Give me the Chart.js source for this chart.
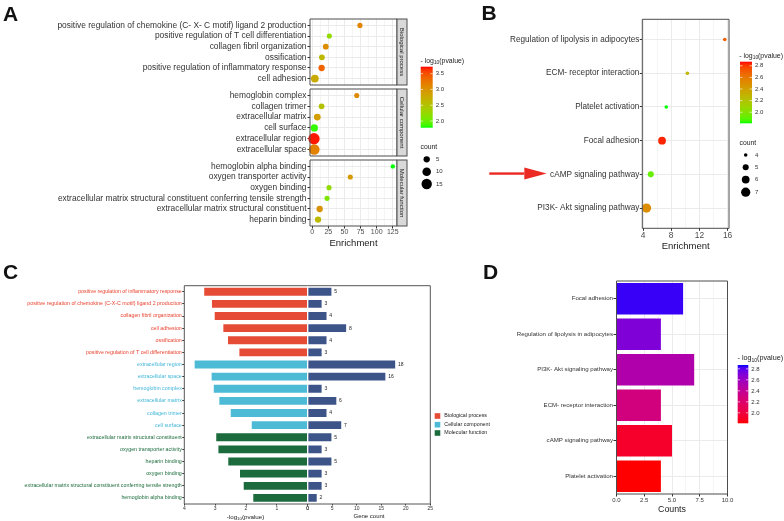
<!DOCTYPE html>
<html><head><meta charset="utf-8">
<script src="https://cdn.jsdelivr.net/npm/chart.js@4/dist/chart.umd.min.js"></script>
<style>
html,body{margin:0;padding:0;background:#fff;width:784px;height:521px;overflow:hidden;}
canvas{position:absolute;left:0;top:0;}
</style></head><body>
<canvas id="a1" width="784" height="521"></canvas>
<canvas id="a2" width="784" height="521"></canvas>
<canvas id="a3" width="784" height="521"></canvas>
<canvas id="b" width="784" height="521"></canvas>
<canvas id="cL" width="784" height="521"></canvas>
<canvas id="cR" width="784" height="521"></canvas>
<canvas id="d" width="784" height="521"></canvas>
<script>
// ---------------- DATA ----------------
// Panel A : GO enrichment dot plot (three facets)
const bpTerms = ['positive regulation of chemokine (C- X- C motif) ligand 2 production','positive regulation of T cell differentiation','collagen fibril organization','ossification','positive regulation of inflammatory response','cell adhesion'];
const bpEnrichment = [74, 26.5, 21, 15, 14.5, 4];
const bpCount = [3, 3, 4, 4, 5, 8];
const bpLogP = [3.13, 2.24, 3.04, 2.61, 3.38, 2.76];

const ccTerms = ['hemoglobin complex','collagen trimer','extracellular matrix','cell surface','extracellular region','extracellular space'];
const ccEnrichment = [69, 14.5, 7.8, 3.2, 2.7, 3.1];
const ccCount = [3, 4, 6, 7, 18, 16];
const ccLogP = [3.07, 2.52, 2.89, 1.84, 3.69, 3.14];

const mfTerms = ['hemoglobin alpha binding','oxygen transporter activity','oxygen binding','extracellular matrix structural constituent conferring tensile strength','extracellular matrix structural constituent','heparin binding'];
const mfEnrichment = [125, 59, 26, 23, 11.5, 9];
const mfCount = [2, 3, 3, 3, 5, 5];
const mfLogP = [1.79, 2.92, 2.22, 2.10, 2.99, 2.60];

const facetNames = ['Biological process','Cellular component','Molecular function'];
const enrichTicksA = [0, 25, 50, 75, 100, 125];
const pLegendTicksA = [2.0, 2.5, 3.0, 3.5];
const countLegendA = [5, 10, 15];

// Panel B : KEGG dot plot
const keggTerms = ['Regulation of lipolysis in adipocytes','ECM- receptor interaction','Platelet activation','Focal adhesion','cAMP signaling pathway','PI3K- Akt signaling pathway'];
const keggEnrichment = [15.6, 10.3, 7.3, 6.7, 5.1, 4.5];
const keggCount = [4, 4, 4, 6, 5, 7];
const keggLogP = [2.70, 2.28, 1.81, 2.84, 1.92, 2.50];
const enrichTicksB = [4, 8, 12, 16];
const pLegendTicksB = [2.0, 2.2, 2.4, 2.6, 2.8];
const countLegendB = [4, 5, 6, 7];

// Panel C : GO butterfly bars
const goTerms = ['positive regulation of inflammatory response','positive regulation of chemokine (C-X-C motif) ligand 2 production','collagen fibril organization','cell adhesion','ossification','positive regulation of T cell differentiation','extracellular region','extracellular space','hemoglobin complex','extracellular matrix','collagen trimer','cell surface','extracellular matrix structural constituent','oxygen transporter activity','heparin binding','oxygen binding','extracellular matrix structural constituent conferring tensile strength','hemoglobin alpha binding'];
const goGroup = ['BP','BP','BP','BP','BP','BP','CC','CC','CC','CC','CC','CC','MF','MF','MF','MF','MF','MF'];
const goLogP = [3.38, 3.13, 3.04, 2.76, 2.61, 2.24, 3.69, 3.14, 3.07, 2.89, 2.52, 1.84, 2.99, 2.92, 2.60, 2.22, 2.10, 1.79];
const goGeneCount = [5, 3, 4, 8, 4, 3, 18, 16, 3, 6, 4, 7, 5, 3, 5, 3, 3, 2];
const groupKeys = ['BP','CC','MF'];
const groupNames = ['Biological process','Cellular component','Molecular function'];
const logPTicksC = [0, 1, 2, 3, 4];
const countTicksC = [0, 5, 10, 15, 20, 25];

// Panel D : KEGG bars
const keggTermsD = ['Focal adhesion','Regulation of lipolysis in adipocytes','PI3K- Akt signaling pathway','ECM- receptor interaction','cAMP signaling pathway','Platelet activation'];
const keggCountD = [6, 4, 7, 4, 5, 4];
const keggLogPD = [2.84, 2.70, 2.50, 2.28, 1.92, 1.81];
const countTicksD = [0, 2.5, 5, 7.5, 10];

// ---------------- STYLE ----------------
const W = 784, H = 521;
const FF = '"Liberation Sans", Arial, Helvetica, sans-serif';
const groupFill = {BP:'#e64b35', CC:'#4dbbd5', MF:'#1b6b3c'};
const groupText = {BP:'#e8432e', CC:'#3fb5d8', MF:'#1b6b3c'};
const navy = '#3c5488';
const gridCol = '#ebebeb';

Chart.defaults.font.family = FF;
Chart.defaults.color = '#333';
Chart.defaults.animation = false;
Chart.defaults.responsive = false;
Chart.defaults.devicePixelRatio = 1;
Chart.defaults.events = [];
Chart.defaults.plugins.legend.display = false;
Chart.defaults.plugins.tooltip.enabled = false;

// CIELAB colour ramp (as ggplot's gradient)
function lin(c){c/=255;return c<=0.04045?c/12.92:Math.pow((c+0.055)/1.055,2.4);}
function gam(c){c=Math.max(0,Math.min(1,c));return Math.round(255*(c<=0.0031308?12.92*c:1.055*Math.pow(c,1/2.4)-0.055));}
function toLab(hex){
  const r=lin(parseInt(hex.slice(1,3),16)),g=lin(parseInt(hex.slice(3,5),16)),b=lin(parseInt(hex.slice(5,7),16));
  let X=(0.4124*r+0.3576*g+0.1805*b)/0.95047,Y=0.2126*r+0.7152*g+0.0722*b,Z=(0.0193*r+0.1192*g+0.9505*b)/1.08883;
  const f=t=>t>0.008856?Math.cbrt(t):7.787*t+16/116;
  const fx=f(X),fy=f(Y),fz=f(Z);
  return [116*fy-16,500*(fx-fy),200*(fy-fz)];
}
function fromLab(L,a,bb){
  const fy=(L+16)/116,fx=fy+a/500,fz=fy-bb/200;
  const fi=t=>t>0.206893?t*t*t:(t-16/116)/7.787;
  const X=0.95047*fi(fx),Y=fi(fy),Z=1.08883*fi(fz);
  return 'rgb('+gam(3.2406*X-1.5372*Y-0.4986*Z)+','+gam(-0.9689*X+1.8758*Y+0.0415*Z)+','+gam(0.0557*X-0.2040*Y+1.0570*Z)+')';
}
function ramp(lowHex, highHex, vmin, vmax){
  const A=toLab(lowHex),B=toLab(highHex);
  return v=>{const t=Math.max(0,Math.min(1,(v-vmin)/(vmax-vmin)));return fromLab(A[0]+(B[0]-A[0])*t,A[1]+(B[1]-A[1])*t,A[2]+(B[2]-A[2])*t);};
}
const colA = ramp('#00ff00','#ff0000',1.79,3.72);
const colB = ramp('#00ff00','#ff0000',1.81,2.87);
const colD = ramp('#ff0000','#0000ff',1.81,2.87);
const rA = c => Math.sqrt(1.5 + 1.7*c);
const rB = c => Math.sqrt(Math.max(1.5, -20.7 + 5.98*c));

function pad(l,t,r,b,yW,xH){return {left:l-yW, top:t, right:W-r, bottom:H-b-xH};}
const fixW = w => s => { s.width = w; };
const fixH = h => s => { s.height = h; };
const setTicks = vals => s => { s.ticks = vals.map(v => ({value:v})); };
const fnt = (s) => s + 'px ' + FF;

function frame(color, sides){
  sides = sides || 'trbl';
  return {id:'frame', afterDraw(chart){
    const {left,top,right,bottom}=chart.chartArea, c=chart.ctx;
    c.save(); c.strokeStyle=color; c.lineWidth=1; c.beginPath();
    if(sides.includes('t')){c.moveTo(left,top);c.lineTo(right,top);}
    if(sides.includes('r')){c.moveTo(right,top);c.lineTo(right,bottom);}
    if(sides.includes('b')){c.moveTo(left,bottom);c.lineTo(right,bottom);}
    if(sides.includes('l')){c.moveTo(left,top);c.lineTo(left,bottom);}
    c.stroke(); c.restore();
  }};
}
function stripPl(text){
  return {id:'strip', afterDraw(chart){
    const {right,top,bottom}=chart.chartArea, c=chart.ctx;
    c.save(); c.fillStyle='#d9d9d9'; c.fillRect(right,top,10,bottom-top);
    c.strokeStyle='#4d4d4d'; c.lineWidth=1; c.strokeRect(right,top,10,bottom-top);
    c.translate(right+5,(top+bottom)/2); c.rotate(Math.PI/2);
    c.fillStyle='#1a1a1a'; c.font=fnt(6); c.textAlign='center'; c.textBaseline='middle';
    c.fillText(text,0,0.3); c.restore();
  }};
}

// ---------------- PANEL A ----------------
const minorA = [12.5, 37.5, 62.5, 87.5, 112.5];
const allXA = enrichTicksA.concat(minorA).sort((a,b)=>a-b);
function facet(id, terms, enr, cnt, lp, top, bottom, strip, showX){
  const xH = showX ? 22 : 0;
  new Chart(document.getElementById(id), {
    type:'scatter',
    data:{datasets:[{data: terms.map((t,i)=>({x:enr[i], y:i+1})),
      pointRadius: cnt.map(rA), pointBackgroundColor: lp.map(colA), pointBorderWidth:0, clip:false}]},
    options:{
      layout:{padding: pad(310, top, 397, bottom, 310, xH)},
      scales:{
        x:{type:'linear', min:-3.5, max:131.5, afterBuildTicks: setTicks(allXA),
          ticks:{display:showX, autoSkip:false, maxRotation:0, padding:0.5, font:{size:7, lineHeight:1}, color:'#4d4d4d',
            callback:v=>enrichTicksA.includes(v)?String(v):''},
          grid:{color:gridCol, lineWidth:c=>enrichTicksA.includes(c.tick.value)?1:0.5, drawTicks:showX, tickLength:2.5,
            tickColor:c=>enrichTicksA.includes(c.tick.value)?'#333':'rgba(0,0,0,0)'},
          border:{display:false},
          title:{display:showX, text:'Enrichment', font:{size:9.5, lineHeight:1}, padding:0, color:'#1a1a1a'},
          afterFit: fixH(xH)},
        y:{type:'linear', min:0.4, max:6.6, reverse:true, afterBuildTicks: setTicks(terms.map((t,i)=>i+1)),
          ticks:{autoSkip:false, padding:1, font:{size:8.4}, color:'#333', callback:v=>terms[v-1]},
          grid:{color:gridCol, tickLength:2.5, tickColor:'#333'},
          border:{display:false}, afterFit: fixW(310)}
      }
    },
    plugins:[frame('#4d4d4d'), stripPl(strip)]
  });
}
facet('a1', bpTerms, bpEnrichment, bpCount, bpLogP, 19, 85, facetNames[0], false);
facet('a2', ccTerms, ccEnrichment, ccCount, ccLogP, 89, 156, facetNames[1], false);
facet('a3', mfTerms, mfEnrichment, mfCount, mfLogP, 160, 226, facetNames[2], true);

// ---------------- PANEL B ----------------
const allXB = [4,6,8,10,12,14,16];
new Chart(document.getElementById('b'), {
  type:'scatter',
  data:{datasets:[{data: keggTerms.map((t,i)=>({x:keggEnrichment[i], y:i+1})),
    pointRadius: keggCount.map(rB), pointBackgroundColor: keggLogP.map(colB), pointBorderWidth:0, clip:false}]},
  options:{
    layout:{padding: pad(642.3, 19.3, 729, 228.3, 642.3, 22.5)},
    scales:{
      x:{type:'linear', min:3.9, max:16.2, afterBuildTicks: setTicks(allXB),
        ticks:{autoSkip:false, maxRotation:0, padding:0.5, font:{size:8.4, lineHeight:1}, color:'#4d4d4d',
          callback:v=>enrichTicksB.includes(v)?String(v):''},
        grid:{color:gridCol, lineWidth:c=>enrichTicksB.includes(c.tick.value)?1:0.5, tickLength:2.5,
          tickColor:c=>enrichTicksB.includes(c.tick.value)?'#333':'rgba(0,0,0,0)'},
        border:{display:false},
        title:{display:true, text:'Enrichment', font:{size:9.5, lineHeight:1}, padding:0, color:'#1a1a1a'},
        afterFit: fixH(22.5)},
      y:{type:'linear', min:0.4, max:6.6, reverse:true, afterBuildTicks: setTicks(keggTerms.map((t,i)=>i+1)),
        ticks:{autoSkip:false, padding:0.5, font:{size:8.2}, color:'#333', callback:v=>keggTerms[v-1]},
        grid:{color:gridCol, tickLength:2.5, tickColor:'#333'},
        border:{display:false}, afterFit: fixW(642.3)}
    }
  },
  plugins:[frame('#4d4d4d'), {id:'arrow', afterDraw(chart){
    const c=chart.ctx, ca=chart.chartArea;
    const y = chart.scales.y.getPixelForValue(keggTerms.indexOf('cAMP signaling pathway')+1) - 0.8;
    const tail = ca.left-153, base = ca.left-118, tip = ca.left-95.6;
    c.save(); c.fillStyle='#ec2a24';
    c.fillRect(tail, y-1.2, base-tail, 2.4);
    c.beginPath(); c.moveTo(base, y-6); c.lineTo(tip, y); c.lineTo(base, y+6); c.closePath(); c.fill();
    c.restore();
  }}]
});

// ---------------- PANEL C ----------------
function logTitle(ctx, x, y, size, prefix, align){
  ctx.font=fnt(size); const w1=ctx.measureText(prefix+'log').width, w3=ctx.measureText('(pvalue)').width;
  ctx.font=fnt(size*0.7); const w2=ctx.measureText('10').width;
  const x0 = align==='center' ? x-(w1+w2+w3)/2 : x;
  ctx.textAlign='left'; ctx.textBaseline='alphabetic';
  ctx.font=fnt(size); ctx.fillText(prefix+'log', x0, y);
  ctx.font=fnt(size*0.7); ctx.fillText('10', x0+w1, y+size*0.28);
  ctx.font=fnt(size); ctx.fillText('(pvalue)', x0+w1+w2, y);
}
new Chart(document.getElementById('cL'), {
  type:'bar',
  data:{labels: goTerms, datasets:[{data: goLogP, backgroundColor: goGroup.map(g=>groupFill[g]),
    borderColor:'rgba(255,255,255,0.9)', borderWidth:0.8, barPercentage:0.78, categoryPercentage:1}]},
  options:{indexAxis:'y',
    layout:{padding: pad(184.3, 285.7, 307.7, 504, 184.3, 15)},
    scales:{
      x:{type:'linear', min:0, max:4, reverse:true, afterBuildTicks: setTicks(logPTicksC),
        ticks:{autoSkip:false, maxRotation:0, padding:0.5, font:{size:5, lineHeight:1}, color:'#333'},
        grid:{drawOnChartArea:false, tickLength:1.5, tickColor:'#333'}, border:{display:false}, afterFit: fixH(15)},
      y:{ticks:{autoSkip:false, padding:0.5, font:{size:5.3}, color:c=>groupText[goGroup[c.index]]},
        grid:{drawOnChartArea:false, offset:false, tickLength:2, tickColor:'#333'}, border:{display:false}, afterFit: fixW(184.3)}
    }},
  plugins:[frame('#555','tlb'), {id:'ttl', afterDraw(chart){
    const c=chart.ctx; c.save(); c.fillStyle='#1a1a1a';
    logTitle(c, 245.5, 518.5, 6.2, '-', 'center'); c.restore();
  }}]
});
new Chart(document.getElementById('cR'), {
  type:'bar',
  data:{labels: goTerms, datasets:[{data: goGeneCount, backgroundColor: navy,
    borderColor:'rgba(255,255,255,0.9)', borderWidth:0.8, barPercentage:0.78, categoryPercentage:1}]},
  options:{indexAxis:'y',
    layout:{padding:{left:307.7, top:285.7, right:W-430.3, bottom:H-504-15}},
    scales:{
      x:{type:'linear', min:0, max:25, afterBuildTicks: setTicks(countTicksC),
        ticks:{autoSkip:false, maxRotation:0, padding:0.5, font:{size:5, lineHeight:1}, color:'#333'},
        grid:{drawOnChartArea:false, tickLength:1.5, tickColor:'#333'}, border:{display:false},
        title:{display:true, text:'Gene count', font:{size:6, lineHeight:1}, padding:0, color:'#1a1a1a'},
        afterFit: fixH(15)},
      y:{display:false}
    }},
  plugins:[frame('#555','trb'), {id:'nums', afterDatasetsDraw(chart){
    const c=chart.ctx, meta=chart.getDatasetMeta(0);
    c.save(); c.fillStyle='#222'; c.font=fnt(5); c.textAlign='left'; c.textBaseline='middle';
    meta.data.forEach((bar,i)=>c.fillText(String(goGeneCount[i]), bar.x+2, bar.y));
    c.restore();
  }}]
});

// ---------------- PANEL D + figure decorations ----------------
const allXD = [0,1.25,2.5,3.75,5,6.25,7.5,8.75,10];
function colorbar(c, x, y, w, h, vmin, vmax, colFn, ticks, fmt){
  const g=c.createLinearGradient(0,y,0,y+h);
  for(let i=0;i<=24;i++){const t=i/24; g.addColorStop(t, colFn(vmax-t*(vmax-vmin)));}
  c.fillStyle=g; c.fillRect(x,y,w,h);
  ticks.forEach(v=>{
    const ty=y+(vmax-v)/(vmax-vmin)*h;
    c.strokeStyle='rgba(255,255,255,0.9)'; c.lineWidth=0.7; c.beginPath();
    c.moveTo(x,ty); c.lineTo(x+2.4,ty); c.moveTo(x+w-2.4,ty); c.lineTo(x+w,ty); c.stroke();
    c.fillStyle='#333'; c.font=fnt(6); c.textAlign='left'; c.textBaseline='middle';
    c.fillText(fmt(v), x+w+3, ty);
  });
}
const decor = {id:'decor', afterDraw(chart){
  const c=chart.ctx; c.save();
  // panel letters
  c.fillStyle='#111'; c.font='bold 21px '+FF; c.textAlign='left'; c.textBaseline='alphabetic';
  c.fillText('A', 3, 20.5); c.fillText('B', 481.5, 20); c.fillText('C', 3, 278.5); c.fillText('D', 483, 279);
  // A legends
  c.fillStyle='#1a1a1a'; logTitle(c, 420.5, 62.5, 6.9, '- ', 'left');
  colorbar(c, 420.7, 66.7, 12, 61, 1.79, 3.72, colA, pLegendTicksA, v=>v.toFixed(1));
  c.fillStyle='#1a1a1a'; c.font=fnt(6.8); c.textAlign='left'; c.textBaseline='middle'; c.fillText('count', 420.5, 147);
  [159.3,171.7,184].forEach((yy,i)=>{ c.fillStyle='#000'; c.beginPath(); c.arc(426.7, yy, rA(countLegendA[i]), 0, 2*Math.PI); c.fill();
    c.fillStyle='#333'; c.font=fnt(6); c.textBaseline='middle'; c.fillText(String(countLegendA[i]), 436, yy); });
  // B legends
  c.fillStyle='#1a1a1a'; logTitle(c, 739.3, 57.5, 6.9, '- ', 'left');
  colorbar(c, 740, 61.7, 12, 61.6, 1.81, 2.87, colB, pLegendTicksB, v=>v.toFixed(1));
  c.fillStyle='#1a1a1a'; c.font=fnt(6.8); c.textAlign='left'; c.textBaseline='middle'; c.fillText('count', 739.5, 143);
  [155,167.3,179.6,192.2].forEach((yy,i)=>{ c.fillStyle='#000'; c.beginPath(); c.arc(745.7, yy, rB(countLegendB[i]), 0, 2*Math.PI); c.fill();
    c.fillStyle='#333'; c.font=fnt(6); c.textBaseline='middle'; c.fillText(String(countLegendB[i]), 755, yy); });
  // C legend
  [416,424.7,433].forEach((yy,i)=>{ c.fillStyle=groupFill[groupKeys[i]]; c.fillRect(434.7, yy-2.8, 5.6, 5.6);
    c.fillStyle='#1a1a1a'; c.font=fnt(5.3); c.textAlign='left'; c.textBaseline='middle'; c.fillText(groupNames[i], 444.3, yy); });
  // D legend
  c.fillStyle='#1a1a1a'; logTitle(c, 737.5, 359.5, 7.2, '- ', 'left');
  colorbar(c, 737.7, 365, 10.6, 58.3, 1.81, 2.87, colD, pLegendTicksB, v=>v.toFixed(1));
  c.restore();
}};
new Chart(document.getElementById('d'), {
  type:'bar',
  data:{labels: keggTermsD, datasets:[{data: keggCountD, backgroundColor: keggLogPD.map(colD), barPercentage:0.89, categoryPercentage:1}]},
  options:{indexAxis:'y',
    layout:{padding: pad(616.5, 281, 727.5, 494, 616.5, 20.4)},
    scales:{
      x:{type:'linear', min:0, max:10, afterBuildTicks: setTicks(allXD),
        ticks:{autoSkip:false, maxRotation:0, padding:1, font:{size:6, lineHeight:1}, color:'#333',
          callback:v=>countTicksD.includes(v)?v.toFixed(1):''},
        grid:{color:gridCol, lineWidth:c=>countTicksD.includes(c.tick.value)?1:0.5, tickLength:2.5,
          tickColor:c=>countTicksD.includes(c.tick.value)?'#333':'rgba(0,0,0,0)'},
        border:{display:false},
        title:{display:true, text:'Counts', font:{size:8.8, lineHeight:1}, padding:0, color:'#1a1a1a'},
        afterFit: fixH(20.4)},
      y:{offset:true, ticks:{autoSkip:false, padding:0.5, font:{size:6.1}, color:'#333'},
        grid:{color:gridCol, offset:false, tickLength:3, tickColor:'#333'},
        border:{display:false}, afterFit: fixW(616.5)}
    }},
  plugins:[frame('#4d4d4d'), decor]
});
</script>
</body></html>
